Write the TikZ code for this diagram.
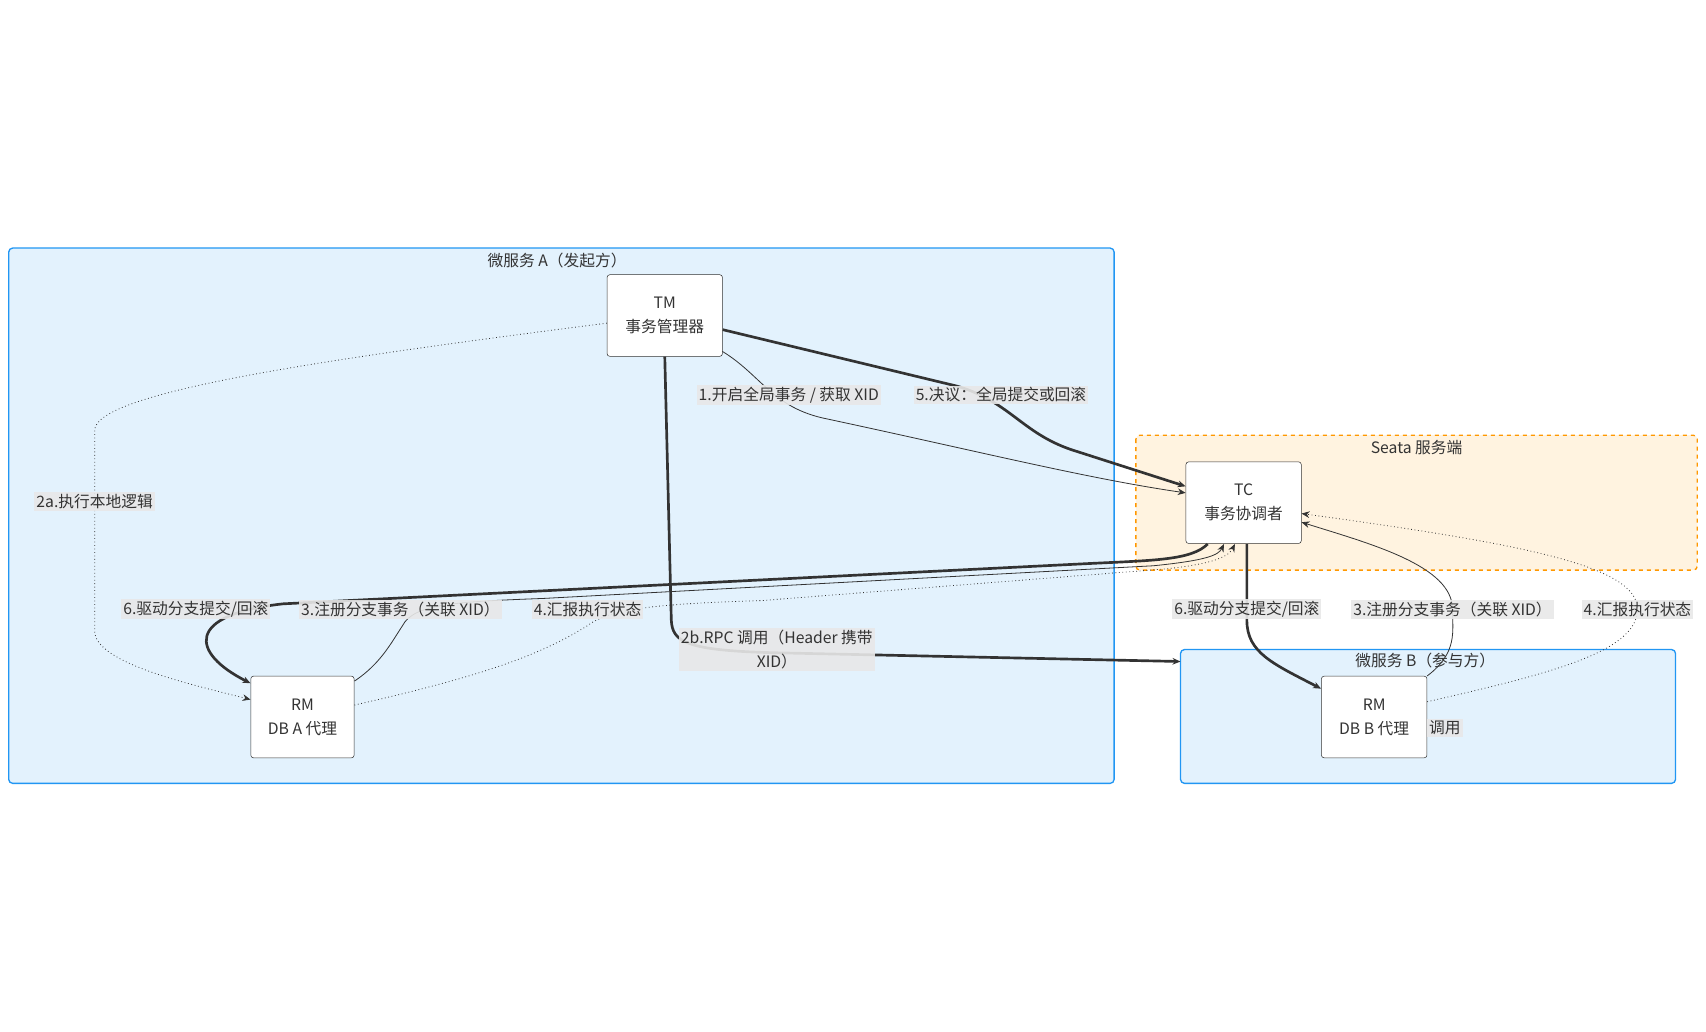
\documentclass[tikz,border=0pt]{standalone}
\usepackage{fontspec}
\setmainfont{Noto Sans CJK SC}
\usetikzlibrary{arrows.meta}
\definecolor{ink}{HTML}{333333}
\definecolor{bluef}{HTML}{E3F2FD}
\definecolor{blues}{HTML}{2196F3}
\definecolor{orf}{HTML}{FFF3E0}
\definecolor{ors}{HTML}{FF9800}
\definecolor{lab}{HTML}{E8E8E8}
\begin{document}
\begin{tikzpicture}[x=0.816pt,y=-0.816pt,
  font=\fontsize{11.8}{18}\selectfont, text=ink,
  box/.style={draw=ink,fill=white,rounded corners=2pt,align=center,minimum width=106*0.816pt,minimum height=75*0.816pt,inner sep=0pt},
  grp/.style={draw=blues,fill=bluef,rounded corners=3pt,line width=1pt},
  lbl/.style={fill=lab,fill opacity=0.9,text opacity=1,inner sep=1.5pt,align=center},
  e/.style={draw=ink,-{Stealth[length=6pt,width=5pt]}},
  thin/.style={e,line width=0.6pt},
  thick/.style={e,line width=2pt},
  dot/.style={e,line width=0.6pt,dotted}]
\useasboundingbox (0,0) rectangle (1568,948);
\draw[grp] (8,228) rectangle (1024,720);
\node at (512,239) {微服务 A（发起方）};
\draw[fill=orf,draw=ors,dashed,rounded corners=3pt,line width=1pt] (1044,400) rectangle (1560,524);
\node at (1302,411) {Seata 服务端};
\draw[grp] (1085,597) rectangle (1540,720);
\node at (1310,607) {微服务 B（参与方）};
\coordinate (Bl) at (1085,608);

\node[box] (TM) at (611,290) {TM\\事务管理器};
\node[box] (TC) at (1143,462) {TC\\事务协调者};
\node[box,minimum width=95*0.816pt] (RA) at (278,659) {RM\\DB A 代理};
\node[box,minimum width=97*0.816pt] (RB) at (1263,659) {RM\\DB B 代理};

% 1
\draw[thin] (664,323) .. controls (700,345) and (710,375) .. (760,385) .. controls (900,415) and (1000,440) .. (TC.west |- 0,453);
\node[lbl] at (725,363) {1.开启全局事务 / 获取 XID};
% 5
\draw[thick] (TM.east |- 0,303) -- (880,355) .. controls (930,370) and (940,400) .. (990,415) -- (TC.west |- 0,447);
\node[lbl] at (920,363) {5.决议：全局提交或回滚};
% 2a
\draw[dot] (TM.west |- 0,297) .. controls (300,330) and (90,360) .. (87,395) -- (87,580) .. controls (87,610) and (180,630) .. (RA.west |- 0,643);
\node[lbl] at (87,461) {2a.执行本地逻辑};
% 2b
\draw[thick] (TM.south) -- (617,570) .. controls (618,590) and (630,598) .. (714,600) -- (Bl);
\node[lbl] at (714,597) {2b.RPC 调用（Header 携带\\XID）};
% 6A
\draw[thick] (1110,500) .. controls (1095,515) and (1060,515) .. (1000,518) -- (260,555) .. controls (170,565) and (175,600) .. (RA.west |- 0,628);
\node[lbl] at (180,560) {6.驱动分支提交/回滚};
% 3A
\draw[thin] (RA.east |- 0,626) .. controls (350,610) and (360,590) .. (370,575) .. controls (380,555) and (420,553) .. (500,550) -- (1060,520) .. controls (1110,515) and (1120,510) .. (1125,500);
\node[lbl] at (368,560) {3.注册分支事务（关联 XID）};
% 4A
\draw[dot] (RA.east |- 0,648) .. controls (450,620) and (500,600) .. (540,575) .. controls (560,560) and (600,555) .. (700,552) -- (1070,523) .. controls (1120,518) and (1130,510) .. (1135,500);
\node[lbl] at (540,560) {4.汇报执行状态};
% 6B
\draw[thick] (1146,500) -- (1146,570) .. controls (1146,600) and (1170,610) .. (RB.west |- 0,633);
\node[lbl] at (1146,560) {6.驱动分支提交/回滚};
% 3B
\draw[thin] (RB.north east) .. controls (1340,600) and (1335,580) .. (1335,560) .. controls (1335,520) and (1260,500) .. (TC.east |- 0,480);
\node[lbl] at (1335,560) {3.注册分支事务（关联 XID）};
% 4B
\draw[dot] (RB.east |- 0,645) .. controls (1420,620) and (1505,600) .. (1505,560) .. controls (1505,520) and (1400,500) .. (TC.east |- 0,472);
\node[lbl] at (1505,560) {4.汇报执行状态};
\node[lbl] at (1328,669) {调用};
\end{tikzpicture}
\end{document}
